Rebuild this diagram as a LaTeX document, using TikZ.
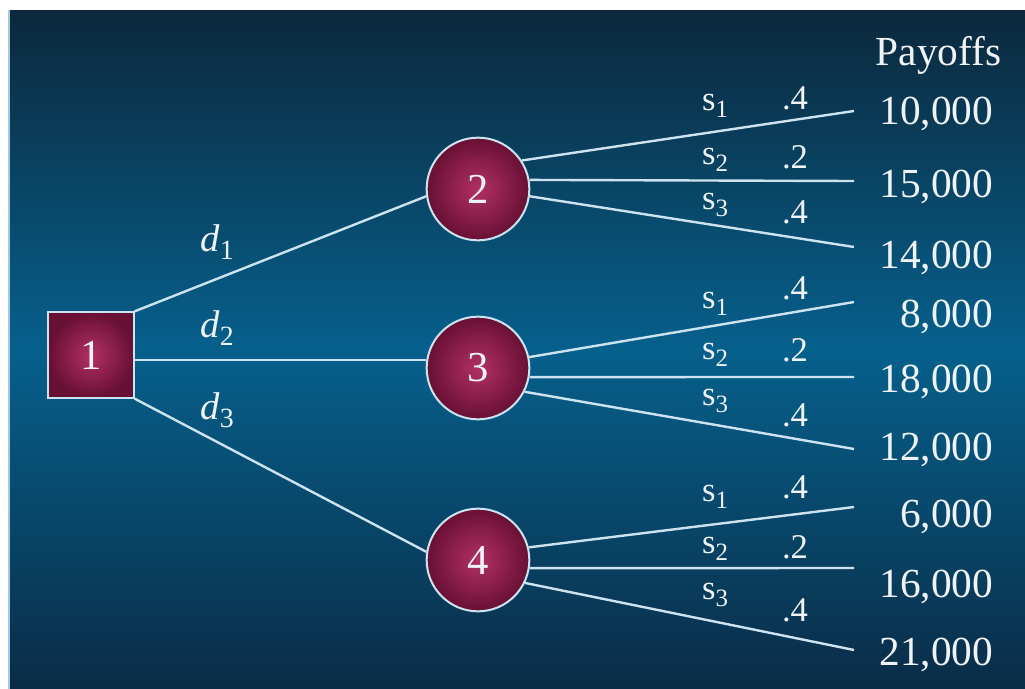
\documentclass[tikz,border=0pt]{standalone}
\usepackage{fontspec}
\setmainfont{Liberation Serif}
\usetikzlibrary{positioning}
\definecolor{bgtop}{RGB}{12,40,60}
\definecolor{bgmid}{RGB}{6,96,140}
\definecolor{bgbot}{RGB}{10,44,70}
\definecolor{nodein}{RGB}{178,48,100}
\definecolor{nodeout}{RGB}{104,16,52}
\definecolor{edgeline}{RGB}{205,228,240}
\definecolor{txt}{RGB}{240,243,246}
\newcommand{\lowsub}[2]{#1\raisebox{-0.45ex}{\scalebox{0.72}{#2}}}

\begin{document}
\begin{tikzpicture}[
    x=0.75pt, y=-0.75pt,
    decision/.style={draw=edgeline, line width=1.5pt, inner color=nodein, outer color=nodeout, minimum size=64pt, text=txt, font=\fontsize{32}{32}\selectfont},
    chance/.style={circle, draw=edgeline, line width=1.5pt, inner color=nodein, outer color=nodeout, minimum size=77pt, text=txt, font=\fontsize{32}{32}\selectfont},
    branch/.style={draw=edgeline, line width=1.8pt},
    dlabel/.style={text=txt, font=\fontsize{29}{29}\selectfont},
    slabel/.style={text=txt, font=\fontsize{26}{26}\selectfont},
    payoff/.style={anchor=base east, text=txt, font=\fontsize{31}{31}\selectfont}
]

\useasboundingbox (0,0) rectangle (1025,689);
\fill[white] (0,0) rectangle (1025,689);
\shade[top color=bgtop, bottom color=bgbot, middle color=bgmid] (8,10) rectangle (1025,689);
\draw[line width=1.5pt, color=edgeline!80!bgmid] (9,10) -- (9,689);

\node[decision] (sq_1) at (91,355) {1};
\node[chance] (c_2) at (478,189) {2};
\node[chance] (c_3) at (478,368) {3};
\node[chance] (c_4) at (478,560) {4};

\coordinate (e_21) at (854,111);
\coordinate (e_22) at (854,181);
\coordinate (e_23) at (854,247);
\coordinate (e_31) at (854,302);
\coordinate (e_32) at (854,377);
\coordinate (e_33) at (854,449);
\coordinate (e_41) at (854,507);
\coordinate (e_42) at (854,568);
\coordinate (e_43) at (854,650);

\draw[branch] (sq_1.north east) -- (c_2.188);
\draw[branch] (sq_1.east |- c_3.171) -- (c_3.171);
\draw[branch] (sq_1.south east) -- (c_4.171);

\draw[branch] (c_2.33) -- (e_21);
\draw[branch] (c_2.10) -- (e_22);
\draw[branch] (c_2.-8) -- (e_23);
\draw[branch] (c_3.12) -- (e_31);
\draw[branch] (c_3.-10) -- (e_32);
\draw[branch] (c_3.-27) -- (e_33);
\draw[branch] (c_4.14) -- (e_41);
\draw[branch] (c_4.-9) -- (e_42);
\draw[branch] (c_4.-26) -- (e_43);

\node[dlabel] (d_1) at (217,242) {\lowsub{\textit{d}}{1}};
\node[dlabel] (d_2) at (217,328) {\lowsub{\textit{d}}{2}};
\node[dlabel] (d_3) at (217,410) {\lowsub{\textit{d}}{3}};

\node[slabel] (s_21) at (715,106) {\lowsub{s}{1}};
\node[slabel] (s_22) at (715,160) {\lowsub{s}{2}};
\node[slabel] (s_23) at (715,205) {\lowsub{s}{3}};
\node[slabel] (s_31) at (715,304) {\lowsub{s}{1}};
\node[slabel] (s_32) at (715,355) {\lowsub{s}{2}};
\node[slabel] (s_33) at (715,401) {\lowsub{s}{3}};
\node[slabel] (s_41) at (715,497) {\lowsub{s}{1}};
\node[slabel] (s_42) at (715,549) {\lowsub{s}{2}};
\node[slabel] (s_43) at (715,595) {\lowsub{s}{3}};

\node[slabel] (p_21) at (795,98) {.4};
\node[slabel] (p_22) at (795,157) {.2};
\node[slabel] (p_23) at (795,212) {.4};
\node[slabel] (p_31) at (795,288) {.4};
\node[slabel] (p_32) at (795,350) {.2};
\node[slabel] (p_33) at (795,415) {.4};
\node[slabel] (p_41) at (795,487) {.4};
\node[slabel] (p_42) at (795,547) {.2};
\node[slabel] (p_43) at (795,610) {.4};

\node[payoff] (head) at (1006,65) {Payoffs};
\node[payoff] (v_21) at (998,124) {10,000};
\node[payoff] (v_22) at (998,197) {15,000};
\node[payoff] (v_23) at (998,268) {14,000};
\node[payoff] (v_31) at (998,327) {8,000};
\node[payoff] (v_32) at (998,392) {18,000};
\node[payoff] (v_33) at (998,460) {12,000};
\node[payoff] (v_41) at (998,527) {6,000};
\node[payoff] (v_42) at (998,597) {16,000};
\node[payoff] (v_43) at (998,665) {21,000};

\end{tikzpicture}
\end{document}
